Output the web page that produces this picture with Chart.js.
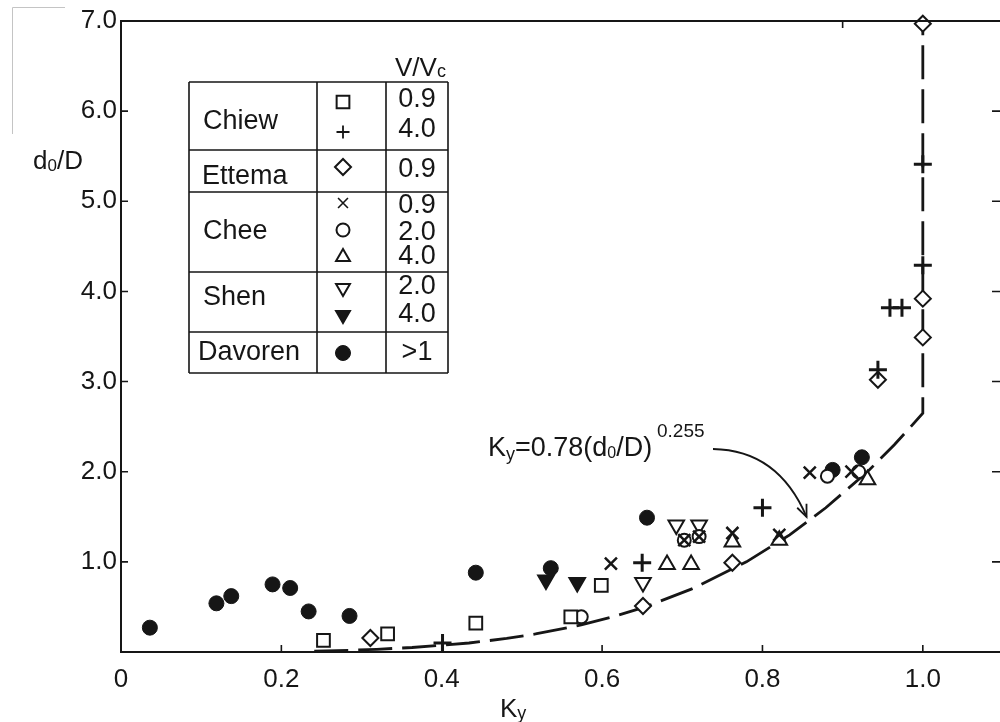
<!DOCTYPE html>
<html><head><meta charset="utf-8">
<script src="https://cdn.jsdelivr.net/npm/chart.js@4.4.0/dist/chart.umd.min.js"></script>
<style>html,body{margin:0;padding:0;overflow:hidden;background:#fff;width:1000px;height:722px}
#wrap{position:relative;width:1015px;height:722px}</style>
</head><body><div id="wrap"><canvas id="c" width="1015" height="722"></canvas></div>
<script>
// ---- tick labels ----
const xTickValues = [0, 0.2, 0.4, 0.6, 0.8, 1.0];
const xTickLabels = ['0', '0.2', '0.4', '0.6', '0.8', '1.0'];
const yTickValues = [1, 2, 3, 4, 5, 6, 7];
const yTickLabels = ['1.0', '2.0', '3.0', '4.0', '5.0', '6.0', '7.0'];

// ---- data: [Ky, d0/D] ----
const chiew09 = [[0.2525, 0.13], [0.3325, 0.20], [0.4425, 0.32], [0.561, 0.39], [0.599, 0.74]];
const chiew40 = [[0.401, 0.10], [0.65, 0.99], [0.80, 1.60], [0.944, 3.13], [0.959, 3.82], [0.974, 3.82], [1.0, 4.29], [1.0, 5.41]];
const ettema09 = [[0.311, 0.155], [0.651, 0.51], [0.7625, 0.99], [0.944, 3.02], [1.0, 3.49], [1.0, 3.92], [1.0, 6.97]];
const chee09 = [[0.611, 0.98], [0.7025, 1.24], [0.721, 1.28], [0.7625, 1.32], [0.821, 1.30], [0.859, 1.99], [0.911, 2.0]];
const chee20 = [[0.574, 0.39], [0.7025, 1.24], [0.721, 1.28], [0.881, 1.95], [0.92, 2.0]];
const chee40 = [[0.681, 0.97], [0.711, 0.97], [0.7625, 1.22], [0.821, 1.24], [0.931, 1.91]];
const shen20 = [[0.651, 0.77], [0.6925, 1.41], [0.721, 1.41]];
const shen40 = [[0.53, 0.80], [0.569, 0.77]];
const davoren = [[0.036, 0.27], [0.119, 0.54], [0.1375, 0.62], [0.189, 0.75], [0.211, 0.71], [0.234, 0.45], [0.285, 0.40], [0.4425, 0.88], [0.536, 0.93], [0.656, 1.49], [0.8875, 2.02], [0.924, 2.16]];
// design curve Ky = 0.78 (d0/D)^0.255, capped at Ky = 1
const curveKy = [0.241, 0.288, 0.319, 0.363, 0.434, 0.481, 0.517, 0.574, 0.617, 0.654, 0.712, 0.78, 0.834, 0.879, 0.931, 0.9645, 0.985, 1.0, 1.0];
const curveD  = [0.01, 0.02, 0.03, 0.05, 0.1, 0.15, 0.2, 0.3, 0.4, 0.5, 0.7, 1.0, 1.3, 1.6, 2.0, 2.3, 2.5, 2.65, 7.0];

// ---- legend table rows ----
const legendGroups = ['Chiew', 'Ettema', 'Chee', 'Shen', 'Davoren'];
const legendValues = ['0.9', '4.0', '0.9', '0.9', '2.0', '4.0', '2.0', '4.0', '>1'];

const INK = '#161616';
const FONT = '"Liberation Sans", Arial, Helvetica, sans-serif';
const styles = {
  chiew09: {ps: 'rect', r: 9, rot: 0, fill: '#fff', bw: 2},
  chiew40: {ps: 'cross', r: 9, rot: 0, fill: INK, bw: 3},
  ettema09: {ps: 'rectRot', r: 8, rot: 0, fill: '#fff', bw: 2},
  chee09: {ps: 'crossRot', r: 8.5, rot: 0, fill: INK, bw: 2.5},
  chee20: {ps: 'circle', r: 6.5, rot: 0, fill: '#fff', bw: 2},
  chee40: {ps: 'triangle', r: 9, rot: 0, fill: '#fff', bw: 2},
  shen20: {ps: 'triangle', r: 9, rot: 180, fill: '#fff', bw: 2},
  shen40: {ps: 'triangle', r: 9, rot: 180, fill: INK, bw: 2},
  davoren: {ps: 'circle', r: 7.5, rot: 0, fill: INK, bw: 1}
};
const seriesData = {chiew09, chiew40, ettema09, chee09, chee20, chee40, shen20, shen40, davoren};

const toXY = arr => arr.map(p => ({x: p[0], y: p[1]}));
const datasets = [{
  label: 'curve',
  data: curveKy.map((k, i) => ({x: k, y: curveD[i]})),
  showLine: true, borderColor: INK, borderWidth: 2.8, borderDash: [34, 10],
  pointRadius: 0, tension: 0, fill: false, order: 10, clip: false
}];
for (const key of Object.keys(seriesData)) {
  const s = styles[key];
  datasets.push({
    label: key, data: toXY(seriesData[key]), showLine: false,
    pointStyle: s.ps, pointRadius: s.r, pointRotation: s.rot,
    pointBackgroundColor: s.fill, pointBorderColor: INK, pointBorderWidth: s.bw,
    order: 1, clip: false
  });
}

function rich(ctx, x, y, parts) {
  ctx.textBaseline = 'alphabetic'; ctx.textAlign = 'left'; ctx.fillStyle = INK;
  for (const p of parts) {
    ctx.font = p.s + 'px ' + FONT;
    ctx.fillText(p.t, x, y + (p.dy || 0));
    x += ctx.measureText(p.t).width;
  }
}
function marker(ctx, s, x, y, bwOverride) {
  ctx.save();
  ctx.strokeStyle = INK; ctx.fillStyle = s.fill; ctx.lineWidth = bwOverride || s.bw;
  Chart.helpers.drawPoint(ctx, {pointStyle: s.ps, rotation: s.rot, radius: s.r, borderWidth: bwOverride || s.bw}, x, y);
  ctx.restore();
}

const deco = {
  id: 'deco',
  afterDraw(chart) {
    const ctx = chart.ctx, ca = chart.chartArea;
    const xs = chart.scales.x, ys = chart.scales.y;
    ctx.save();
    // faint scan bracket
    ctx.strokeStyle = '#c4c4c4'; ctx.lineWidth = 1;
    ctx.beginPath(); ctx.moveTo(12.5, 134); ctx.lineTo(12.5, 7.5); ctx.lineTo(65, 7.5); ctx.stroke();
    // top frame (right frame lies just beyond the picture)
    ctx.strokeStyle = INK; ctx.lineWidth = 2;
    ctx.beginPath(); ctx.moveTo(ca.left, ca.top); ctx.lineTo(ca.right, ca.top); ctx.stroke();
    // inward ticks
    ctx.lineWidth = 1.6;
    ctx.beginPath();
    for (const v of xTickValues.slice(1)) { const px = xs.getPixelForValue(v); ctx.moveTo(px, ca.bottom); ctx.lineTo(px, ca.bottom - 7); }
    for (const v of yTickValues) { const py = ys.getPixelForValue(v); ctx.moveTo(ca.left, py); ctx.lineTo(ca.left + 7, py); ctx.moveTo(1000, py); ctx.lineTo(992, py); }
    const tx = xs.getPixelForValue(0.9); ctx.moveTo(tx, ca.top); ctx.lineTo(tx, ca.top + 7);
    ctx.stroke();

    // axis titles
    rich(ctx, 33, 169, [{t: 'd', s: 26}, {t: '0', s: 17, dy: 2}, {t: '/D', s: 26}]);
    rich(ctx, 500, 717, [{t: 'K', s: 26}, {t: 'y', s: 18, dy: 2}]);

    // equation + arrow
    rich(ctx, 488, 456, [{t: 'K', s: 27}, {t: 'y', s: 18, dy: 4}, {t: '=0.78(d', s: 27}, {t: '0', s: 16, dy: 2}, {t: '/D)', s: 27}]);
    rich(ctx, 657, 437, [{t: '0.255', s: 19}]);
    const ex = xs.getPixelForValue(0.855), ey = ys.getPixelForValue(1.5);
    ctx.strokeStyle = INK; ctx.lineWidth = 1.8;
    ctx.beginPath(); ctx.moveTo(713, 449); ctx.quadraticCurveTo(778, 450, ex, ey); ctx.stroke();
    const ang = Math.atan2(ey - 450, ex - 778);
    ctx.beginPath();
    ctx.moveTo(ex - 13 * Math.cos(ang - 0.4), ey - 13 * Math.sin(ang - 0.4));
    ctx.lineTo(ex, ey);
    ctx.lineTo(ex - 13 * Math.cos(ang + 0.4), ey - 13 * Math.sin(ang + 0.4));
    ctx.stroke();

    // legend table
    ctx.strokeStyle = INK; ctx.lineWidth = 1.6;
    const L = 189, C1 = 317, C2 = 386, R = 448;
    const rows = [82, 150, 192, 272, 332, 373];
    ctx.beginPath();
    for (const y of rows) { ctx.moveTo(L, y); ctx.lineTo(R, y); }
    for (const x of [L, C1, C2, R]) { ctx.moveTo(x, rows[0]); ctx.lineTo(x, rows[5]); }
    ctx.stroke();
    rich(ctx, 395, 76, [{t: 'V/V', s: 26}, {t: 'c', s: 18, dy: 1}]);
    ctx.font = '27px ' + FONT; ctx.fillStyle = INK; ctx.textBaseline = 'middle'; ctx.textAlign = 'left';
    const gx = [203, 202, 203, 203, 198], gy = [122, 177, 232, 298, 353];
    legendGroups.forEach((g, i) => ctx.fillText(g, gx[i], gy[i]));
    ctx.textAlign = 'center';
    const vy = [100, 130, 170, 206, 233, 257, 287, 315, 353];
    legendValues.forEach((v, i) => ctx.fillText(v, 417, vy[i]));
    const mk = ['chiew09', 'chiew40', 'ettema09', 'chee09', 'chee20', 'chee40', 'shen20', 'shen40', 'davoren'];
    const my = [102, 132, 167, 203, 230, 257, 288, 315, 353];
    const lw = {chiew40: 1.8, chee09: 1.6};
    mk.forEach((k, i) => {
      const s = Object.assign({}, styles[k]);
      if (k === 'chiew40') s.r = 6.5;
      if (k === 'chee09') s.r = 7;
      if (k === 'chee40' || k === 'shen20' || k === 'shen40') s.r = 8;
      marker(ctx, s, 343, my[i], lw[k]);
    });
    ctx.restore();
  }
};

new Chart(document.getElementById('c'), {
  type: 'scatter',
  data: {datasets},
  options: {
    responsive: false, animation: false, devicePixelRatio: 1,
    layout: {padding: {top: 21, right: 1, left: 0, bottom: 0}},
    plugins: {legend: {display: false}, tooltip: {enabled: false}},
    scales: {
      x: {
        type: 'linear', min: 0, max: 1.1,
        grid: {display: false, drawTicks: false},
        border: {display: true, color: INK, width: 2},
        afterBuildTicks: s => { s.ticks = xTickValues.map(v => ({value: v})); },
        afterFit: s => { s.height = 70; s.paddingLeft = 0; s.paddingRight = 0; },
        ticks: {
          autoSkip: false, maxRotation: 0, padding: 12, color: INK,
          font: {family: FONT, size: 26},
          callback: v => { const i = xTickValues.indexOf(v); return i >= 0 ? xTickLabels[i] : ''; }
        }
      },
      y: {
        type: 'linear', min: 0, max: 7,
        grid: {display: false, drawTicks: false},
        border: {display: true, color: INK, width: 2},
        afterBuildTicks: s => { s.ticks = yTickValues.map(v => ({value: v})); },
        afterFit: s => { s.width = 121; s.paddingTop = 0; s.paddingBottom = 0; },
        ticks: {
          autoSkip: false, padding: 4, color: INK,
          font: {family: FONT, size: 26},
          callback: v => { const i = yTickValues.indexOf(v); return i >= 0 ? yTickLabels[i] : ''; }
        }
      }
    }
  },
  plugins: [deco]
});
</script></body></html>
